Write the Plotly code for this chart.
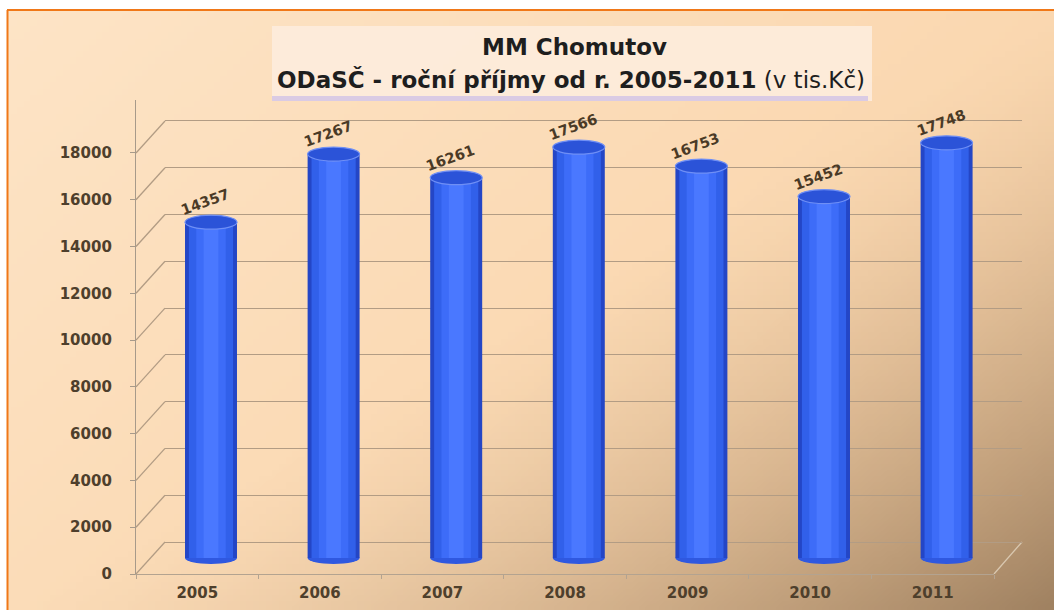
import base64, struct, zlib
import plotly.graph_objects as go

# ---- data ----
years = ["2005", "2006", "2007", "2008", "2009", "2010", "2011"]
income = [14357, 17267, 16261, 17566, 16753, 15452, 17748]
y_ticks = [0, 2000, 4000, 6000, 8000, 10000, 12000, 14000, 16000, 18000]
title_main = "MM Chomutov"
title_sub_bold = "ODaSČ - roční příjmy od r. 2005-2011"
title_sub_rest = "(v tis.Kč)"

W, H = 1054, 610
L, R, T, B = 136, 1022, 100, 574          # plot area in pixels
PW, PH = R - L, B - T
UPP = 42.75                               # value units per pixel
FRONT_TOP = PH * UPP
BACK_SHIFT = 32 * UPP                     # back wall offset (depth)
MID_SHIFT = 16 * UPP                      # bar depth offset

def px(xr):
    return (xr - L) / PW

def py(yr):
    return (B - yr) / PH

# ---- background gradient image ----
def lerp(a, b, t):
    return tuple(int(round(a[k] + (b[k] - a[k]) * t)) for k in range(3))

def gradient_png(w, h):
    c_tl, c_peach, c_dark = (253, 228, 198), (248, 205, 158), (150, 121, 90)
    raw = bytearray()
    for j in range(h):
        raw.append(0)
        v = j / (h - 1)
        for i in range(w):
            u = i / (w - 1)
            base = lerp(c_tl, c_peach, min(1, 0.55 * u + 0.35 * v))
            d = min(1.0, max(0.0, u + v - 1.0)) ** 1.5
            raw.extend(lerp(base, c_dark, 0.9 * d))
    def chunk(tag, data):
        return struct.pack(">I", len(data)) + tag + data + struct.pack(">I", zlib.crc32(tag + data) & 0xffffffff)
    png = b"\x89PNG\r\n\x1a\n" + chunk(b"IHDR", struct.pack(">IIBBBBB", w, h, 8, 2, 0, 0, 0))
    png += chunk(b"IDAT", zlib.compress(bytes(raw), 9)) + chunk(b"IEND", b"")
    return "data:image/png;base64," + base64.b64encode(png).decode()

fig = go.Figure()

# ---- cylinders (layered bars for shading) ----
layers = [("#2446c6", 0.424), ("#3160ea", 0.36), ("#3d6cf8", 0.24), ("#4a78ff", 0.12)]
for color, width in layers:
    fig.add_trace(go.Bar(x=years, y=income, width=width, marker=dict(color=color, line=dict(width=0)),
                         xaxis="x3", yaxis="y3", hoverinfo="skip", showlegend=False))

# invisible traces to activate the front axes and the back-wall axes
fig.add_trace(go.Scatter(x=years, y=[None] * len(years), xaxis="x", yaxis="y", showlegend=False))
fig.add_trace(go.Scatter(x=[0, 1], y=[None, None], xaxis="x2", yaxis="y2", showlegend=False))

shapes = []
for i, v in enumerate(income):
    shapes.append(dict(type="circle", xref="x3", yref="y3", ysizemode="pixel", yanchor=0,
                       x0=i - 0.212, x1=i + 0.212, y0=-6, y1=6, layer="between",
                       fillcolor="#2f58e0", line=dict(width=0)))
    shapes.append(dict(type="circle", xref="x3", yref="y3", ysizemode="pixel", yanchor=v,
                       x0=i - 0.212, x1=i + 0.212, y0=-7, y1=7, layer="above",
                       fillcolor="#2b53d8", line=dict(color="#6f8ff5", width=1.2)))

grid_col = "#b29c84"
for t in y_ticks:
    shapes.append(dict(type="line", xref="paper", yref="y", x0=px(136), x1=px(165), y0=t, y1=t + BACK_SHIFT,
                       line=dict(color=grid_col, width=1.3), layer="between"))
shapes.append(dict(type="line", xref="paper", yref="y", x0=px(994), x1=px(1022), y0=0, y1=BACK_SHIFT,
                   line=dict(color="#d9c8b0", width=1.3), layer="between"))

# title box
shapes.append(dict(type="rect", xref="paper", yref="paper", x0=px(272), x1=px(872), y0=py(101), y1=py(26),
                   fillcolor="rgba(253,236,221,0.9)", line=dict(width=0), layer="above"))
shapes.append(dict(type="rect", xref="paper", yref="paper", x0=px(272), x1=px(868), y0=py(101), y1=py(96),
                   fillcolor="rgba(214,200,228,0.9)", line=dict(width=0), layer="above"))
# orange frame
shapes.append(dict(type="line", xref="paper", yref="paper", x0=px(7), x1=px(1060), y0=py(10), y1=py(10),
                   line=dict(color="#f07818", width=2)))
shapes.append(dict(type="line", xref="paper", yref="paper", x0=px(7.5), x1=px(7.5), y0=py(10), y1=py(620),
                   line=dict(color="#f07818", width=2)))

annotations = []
# value labels (category index positions on the bar axes)
for i, v in enumerate(income):
    annotations.append(dict(x=i, y=v, xref="x3", yref="y3", text="<b>%d</b>" % v, showarrow=False,
                            textangle=-20, yshift=20, xshift=-6, xanchor="center", yanchor="middle",
                            font=dict(family="DejaVu Sans", size=14.5, color="#4a3a26")))
annotations.append(dict(x=px(574), y=py(47), xref="paper", yref="paper", text="<b>" + title_main + "</b>",
                        showarrow=False, xanchor="center", yanchor="middle",
                        font=dict(family="DejaVu Sans", size=23, color="#1e1e1e")))
annotations.append(dict(x=px(571), y=py(79), xref="paper", yref="paper",
                        text="<b>" + title_sub_bold + "</b> " + title_sub_rest,
                        showarrow=False, xanchor="center", yanchor="middle",
                        font=dict(family="DejaVu Sans", size=23, color="#1e1e1e")))

tick_font = dict(family="DejaVu Sans", size=15, color="#4e3f2c", weight="bold")
hidden = dict(showgrid=False, zeroline=False, showline=False, showticklabels=False, ticks="", automargin=False)
fig.update_layout(
    template="none",
    width=W, height=H, autosize=False,
    margin=dict(l=L, r=W - R, t=T, b=H - B, pad=0, autoexpand=False),
    paper_bgcolor="white", plot_bgcolor="rgba(0,0,0,0)",
    barmode="overlay", showlegend=False,
    xaxis=dict(domain=[0, px(994)], type="category", range=[-0.5, 6.5], showline=True, linecolor="#b3a390",
               linewidth=1.3, ticks="outside", ticklen=4, tickcolor="#b3a390", tickson="boundaries",
               showgrid=False, zeroline=False, tickfont=tick_font, ticklabelstandoff=5, automargin=False),
    yaxis=dict(range=[0, FRONT_TOP], tickvals=y_ticks, tickformat="d", showline=True, linecolor="#a79a8a",
               linewidth=1.3, ticks="outside", ticklen=5, tickcolor="#a79a8a", showgrid=False, zeroline=False,
               tickfont=tick_font, ticklabelstandoff=15, automargin=False),
    xaxis2=dict(domain=[px(165), 1], anchor="y2", range=[0, 1], **hidden),
    yaxis2=dict(overlaying="y", anchor="x2", range=[-BACK_SHIFT, FRONT_TOP - BACK_SHIFT], tickvals=y_ticks,
                showgrid=True, gridcolor=grid_col, gridwidth=1.3, showticklabels=False, zeroline=False,
                showline=False, ticks="", automargin=False),
    xaxis3=dict(domain=[px(149.7), px(1007.9)], anchor="y3", type="category", range=[-0.5, 6.5], **hidden),
    yaxis3=dict(overlaying="y", anchor="x3", range=[-MID_SHIFT, FRONT_TOP - MID_SHIFT], **hidden),
    shapes=shapes, annotations=annotations,
    images=[dict(source=gradient_png(160, 96), xref="paper", yref="paper", x=px(7), y=py(10),
                 sizex=(W - 7) / PW, sizey=(H - 10) / PH, sizing="stretch", xanchor="left",
                 yanchor="top", layer="below")],
)

fig.write_html("out.html", config={"displayModeBar": False},
               post_script="document.body.style.margin='0';document.body.style.overflow='hidden';")
